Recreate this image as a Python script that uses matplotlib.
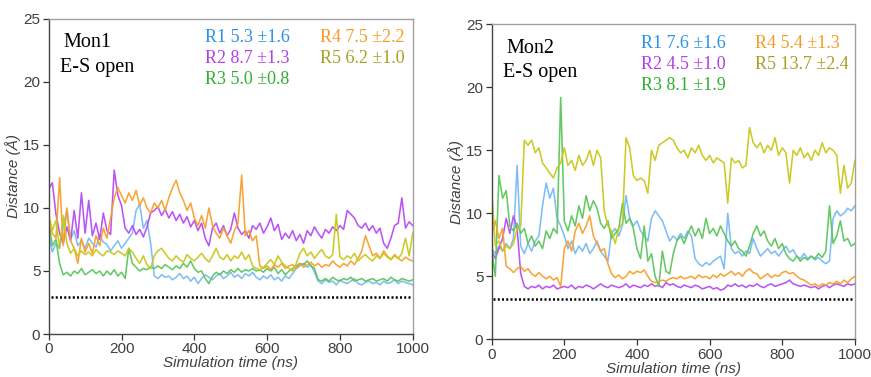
import numpy as np
import matplotlib
matplotlib.use("Agg")
import matplotlib.pyplot as plt

# Simulation time axis (ns), sampled every 10 ns
time_ns = np.arange(0, 1001, 10)

# ---- Mon1 : donor-acceptor distances (Å) ----
mon1_r1 = [8.0, 6.5, 7.2, 6.8, 8.5, 9.8, 7.5, 8.2, 7.0, 7.4, 6.8, 7.6, 7.2, 6.9, 7.8, 7.3, 7.1, 6.6, 7.0, 7.4,
           6.8, 7.2, 7.6, 8.0, 9.8, 10.3, 8.4, 9.0, 7.2, 4.6, 4.4, 4.7, 4.5, 4.6, 4.3, 4.5, 4.8, 4.4, 4.6, 4.2,
           4.5, 4.0, 4.4, 4.7, 4.5, 4.3, 4.6, 4.8, 4.4, 4.6, 4.9, 4.5, 4.7, 4.4, 4.8, 4.6, 4.9, 4.5, 4.3, 4.6,
           4.4, 4.7, 4.3, 4.5, 4.2, 4.6, 4.4, 4.8, 5.2, 5.4, 5.6, 5.3, 5.5, 4.9, 4.2, 4.0, 4.3, 4.1, 4.2, 3.9,
           4.3, 4.1, 4.0, 4.2, 4.4, 4.0, 3.9, 4.1, 4.2, 4.0, 4.1, 3.9, 4.2, 4.0, 4.1, 4.3, 4.0, 4.2, 4.1, 4.0, 3.9]
mon1_r2 = [11.5, 12.0, 9.5, 8.0, 7.2, 8.5, 7.4, 9.8, 7.6, 11.2, 8.0, 10.6, 7.8, 8.8, 7.5, 9.6, 8.2, 7.9, 13.0, 11.0,
           10.2, 8.4, 8.0, 8.6, 7.9, 8.3, 7.7, 8.5, 9.6, 9.8, 10.1, 9.4, 9.9, 9.2, 9.7, 9.0, 9.5, 8.8, 9.3, 8.5,
           9.0, 8.2, 8.8, 7.6, 7.0, 8.4, 8.8, 8.0, 8.6, 7.8, 8.3, 9.6, 8.4, 7.9, 8.2, 7.6, 8.6, 8.3, 8.8, 8.0,
           8.5, 9.2, 8.2, 8.7, 7.5, 8.0, 7.6, 8.2, 7.4, 7.9, 7.2, 8.2, 7.8, 8.5, 8.0, 7.6, 8.3, 8.0, 8.5, 8.2,
           8.6, 8.3, 9.8, 9.5, 9.2, 8.6, 8.4, 8.8, 8.2, 8.6, 8.0, 8.4, 7.2, 6.8, 7.6, 8.6, 8.8, 10.8, 8.4, 8.9, 8.6]
mon1_r3 = [9.0, 7.0, 7.5, 5.6, 4.7, 4.9, 4.6, 5.0, 4.8, 5.2, 4.7, 4.9, 5.1, 4.8, 5.0, 4.6, 5.0, 4.7, 5.1, 4.6,
           4.9, 4.4, 6.8, 5.6, 5.3, 5.0, 5.2, 5.1, 5.3, 5.2, 5.4, 5.2, 5.5, 5.3, 5.1, 5.4, 5.2, 5.6, 5.3, 5.8,
           5.2, 4.9, 5.0, 4.4, 4.0, 4.6, 4.9, 4.7, 5.0, 4.8, 5.1, 4.9, 5.2, 4.9, 5.1, 5.0, 5.2, 5.0, 5.1, 4.9,
           5.2, 5.0, 5.3, 4.8, 5.1, 4.7, 5.0, 5.2, 5.4, 5.6, 5.5, 5.8, 5.4, 5.2, 4.3, 4.2, 4.4, 4.2, 4.5, 4.3,
           4.2, 4.4, 4.3, 4.5, 4.2, 4.3, 4.4, 4.2, 4.3, 4.4, 4.2, 4.3, 4.4, 4.2, 4.5, 4.3, 4.2, 4.4, 4.3, 4.2, 4.3]
mon1_r4 = [9.0, 8.0, 7.6, 12.4, 7.0, 10.0, 7.4, 6.8, 5.6, 7.6, 6.5, 7.2, 6.4, 7.8, 7.0, 8.4, 7.6, 9.2, 10.8, 11.6,
           11.0, 10.4, 11.2, 10.6, 11.4, 10.2, 10.8, 10.0, 9.6, 10.4, 10.0, 10.6, 9.8, 10.8, 11.6, 12.2, 11.2, 10.6, 9.8, 10.4,
           9.2, 8.6, 9.4, 8.4, 10.0, 8.6, 8.0, 7.6, 8.4, 7.8, 7.2, 8.2, 8.8, 12.6, 7.8, 8.2, 7.4, 7.8, 5.4, 5.2,
           5.4, 5.1, 5.5, 5.3, 5.6, 5.2, 5.4, 5.5, 5.2, 5.6, 5.3, 5.5, 5.7, 5.4, 5.6, 5.3, 5.5, 5.4, 5.8, 5.5,
           5.3, 5.6, 5.4, 5.8, 5.5, 6.0, 6.6, 7.8, 7.0, 6.2, 6.4, 6.0, 6.6, 6.2, 5.9, 6.3, 6.0, 5.8, 6.1, 5.9, 5.8]
mon1_r5 = [9.5, 8.2, 9.0, 6.8, 9.4, 7.2, 6.4, 6.8, 6.2, 6.6, 6.3, 6.5, 6.2, 6.7, 6.4, 6.2, 6.6, 6.5, 6.3, 6.6,
           6.4, 6.2, 6.8, 6.5, 6.0, 5.6, 6.2, 5.5, 5.2, 6.2, 6.6, 6.8, 6.4, 6.0, 5.8, 6.2, 5.9, 5.7, 6.3, 6.0,
           5.8, 6.1, 6.4, 6.0, 5.7, 6.2, 6.8, 6.1, 5.9, 6.3, 5.8, 6.2, 6.0, 6.5, 5.9, 6.3, 5.4, 5.2, 5.1, 5.3,
           5.6, 5.9, 5.5, 6.2, 5.7, 5.4, 5.2, 5.0, 5.6, 6.4, 6.8, 6.2, 6.5, 6.0, 6.4, 6.7, 6.2, 6.0, 6.3, 9.5,
           6.1, 5.9, 6.2, 6.0, 6.4, 5.8, 6.1, 6.3, 6.0, 5.8, 6.2, 6.0, 6.4, 6.1, 5.9, 6.2, 6.0, 6.4, 7.6, 6.2, 8.0]

# ---- Mon2 : donor-acceptor distances (Å) ----
mon2_r1 = [7.2, 6.8, 7.4, 7.0, 7.6, 7.2, 8.0, 13.8, 7.4, 6.8, 7.6, 7.0, 7.8, 8.2, 10.6, 12.4, 11.2, 12.0, 9.6, 9.0,
           8.2, 7.2, 7.8, 6.8, 7.4, 7.0, 7.6, 6.8, 7.2, 7.8, 7.0, 6.6, 6.2, 8.4, 8.8, 8.2, 9.0, 11.4, 9.6, 9.0,
           9.4, 8.6, 8.2, 7.8, 9.6, 10.2, 9.8, 9.4, 8.6, 7.8, 8.2, 7.9, 8.4, 8.0, 8.6, 8.2, 6.4, 6.0, 5.8, 6.1,
           5.9, 6.2, 6.4, 6.6, 5.6, 10.0, 7.2, 6.8, 7.0, 6.6, 7.0, 6.8, 8.0, 7.2, 6.6, 6.9, 7.2, 6.8, 7.0, 6.6,
           7.0, 7.4, 6.9, 7.1, 6.6, 6.4, 6.8, 6.4, 6.6, 6.3, 6.5, 6.2, 6.0, 6.2, 9.6, 10.2, 9.8, 10.0, 10.4, 10.2, 10.6]
mon2_r2 = [7.0, 6.4, 7.2, 8.0, 9.6, 8.4, 9.8, 8.8, 5.2, 4.2, 4.0, 4.2, 4.1, 4.3, 4.0, 4.2, 4.1, 4.3, 4.0, 4.1,
           4.2, 4.1, 4.3, 4.0, 4.2, 4.1, 4.3, 4.2, 4.0, 4.2, 4.4, 4.2, 4.1, 4.3, 4.2, 4.1, 4.2, 4.4, 4.1, 4.3,
           4.2, 4.1, 4.3, 4.2, 4.4, 4.2, 4.3, 4.1, 4.5, 4.3, 4.4, 4.2, 4.1, 4.3, 4.2, 4.1, 4.3, 4.2, 4.0, 4.1,
           4.2, 4.0, 4.1, 3.9, 4.0, 4.3, 4.2, 4.4, 4.2, 4.3, 4.1, 4.3, 4.2, 4.4, 4.2, 4.1, 4.3, 4.4, 4.2, 4.3,
           4.4, 4.5, 4.7, 4.4, 4.3, 4.2, 4.3, 4.2, 4.1, 4.2, 4.0, 4.2, 4.3, 4.1, 4.3, 4.4, 4.3, 4.2, 4.4, 4.3, 4.4]
mon2_r3 = [7.0, 5.0, 13.0, 11.2, 11.8, 9.0, 8.6, 9.2, 8.4, 8.8, 7.6, 8.2, 7.4, 7.8, 7.2, 8.6, 8.0, 8.8, 8.4, 19.2,
           9.4, 8.6, 9.8, 9.0, 10.6, 9.6, 11.4, 10.2, 11.0, 10.4, 9.2, 8.8, 9.4, 8.0, 8.4, 8.8, 10.8, 9.2, 9.6, 8.8,
           7.2, 6.4, 9.0, 6.2, 6.8, 5.0, 4.2, 7.0, 5.4, 5.2, 6.8, 7.8, 8.2, 7.6, 8.4, 9.0, 8.2, 8.8, 8.0, 9.6,
           8.4, 8.8, 8.2, 9.0, 8.4, 7.8, 7.4, 7.8, 7.2, 7.0, 6.6, 7.4, 8.4, 9.0, 8.2, 8.6, 7.8, 7.4, 8.0, 7.2,
           7.6, 6.8, 6.4, 6.2, 6.6, 6.2, 6.5, 6.3, 6.6, 6.4, 6.8, 6.5, 7.0, 10.6, 7.6, 8.2, 9.4, 7.8, 8.0, 7.4, 7.6]
mon2_r4 = [8.4, 9.4, 8.0, 8.8, 5.8, 5.6, 5.3, 5.6, 5.8, 5.4, 5.6, 5.2, 5.0, 5.3, 5.0, 4.8, 5.0, 4.7, 4.9, 4.2,
           7.2, 7.8, 7.0, 8.6, 9.2, 8.4, 9.0, 9.8, 8.2, 7.6, 7.0, 7.2, 6.0, 5.2, 4.9, 5.1, 4.8, 5.0, 5.4, 5.2,
           5.4, 5.3, 5.5, 5.0, 4.6, 4.5, 4.6, 4.7, 4.6, 4.8, 4.9, 4.8, 5.0, 4.8, 4.9, 5.0, 4.8, 5.1, 4.9, 5.0,
           4.8, 5.1, 4.9, 5.2, 5.0, 5.2, 5.4, 5.1, 5.3, 5.0, 5.4, 5.6, 5.3, 5.2, 4.8, 5.0, 5.2, 4.9, 5.1, 5.0,
           5.3, 5.4, 5.2, 5.3, 5.0, 4.8, 4.7, 4.5, 4.3, 4.4, 4.2, 4.4, 4.3, 4.5, 4.4, 4.6, 4.4, 4.7, 4.5, 4.8, 5.0]
mon2_r5 = [11.8, 7.4, 7.8, 7.0, 7.4, 7.2, 7.6, 8.8, 9.0, 15.8, 15.4, 15.8, 14.8, 15.2, 14.0, 13.6, 13.2, 12.8, 13.6, 14.0,
           15.2, 13.8, 14.2, 13.4, 14.6, 13.8, 14.2, 15.0, 13.8, 15.0, 14.4, 10.2, 9.0, 8.6, 7.6, 8.8, 9.2, 16.0, 15.2, 13.0,
           12.6, 12.8, 12.6, 11.6, 15.0, 14.2, 15.4, 15.6, 15.8, 16.0, 15.8, 15.2, 14.8, 15.0, 14.4, 15.2, 14.8, 15.4, 14.6, 14.2,
           14.6, 14.0, 14.4, 14.2, 14.0, 10.8, 14.4, 14.0, 14.2, 13.6, 13.8, 16.8, 15.6, 15.2, 15.6, 14.8, 15.4, 15.0, 16.0, 14.6,
           15.2, 14.8, 12.4, 15.0, 14.6, 15.2, 14.4, 14.8, 14.2, 15.0, 14.6, 15.6, 14.8, 15.2, 15.0, 14.6, 11.6, 13.8, 12.0, 12.4, 14.2]

# Cutoff distance shown as a dotted reference line
mon1_cutoff = 2.9
mon2_cutoff = 3.2

series_names = ["R1", "R2", "R3", "R4", "R5"]
mon1_stats = ["5.3 \u00b11.6", "8.7 \u00b11.3", "5.0 \u00b10.8", "7.5 \u00b12.2", "6.2 \u00b11.0"]
mon2_stats = ["7.6 \u00b11.6", "4.5 \u00b11.0", "8.1 \u00b11.9", "5.4 \u00b11.3", "13.7 \u00b12.4"]

line_colors = ["#78bbf5", "#b84cf2", "#5cc65c", "#f9a02a", "#c9c81c"]
text_colors = ["#2a90ee", "#b43ee8", "#30b030", "#f99a22", "#a8a024"]

x_ticks = [0, 200, 400, 600, 800, 1000]
y_ticks = [0, 5, 10, 15, 20, 25]

SERIF = ["Liberation Serif", "DejaVu Serif"]
SANS = ["Liberation Sans", "DejaVu Sans"]

fig = plt.figure(figsize=(8.71, 3.77), dpi=100)
ax1 = fig.add_axes([0.0559, 0.114, 0.418, 0.836])
ax2 = fig.add_axes([0.5645, 0.100, 0.417, 0.8355])


def draw_panel(ax, series, stats, cutoff, title, title_xy, leg_x, leg_y):
    for vals, col in zip(series, line_colors):
        ax.plot(time_ns, vals, color=col, lw=1.15, alpha=0.95)
    ax.plot([5, 995], [cutoff, cutoff], color="black", lw=1.8,
            linestyle=(0, (0.8, 0.9)))
    ax.set_xlim(0, 1000)
    ax.set_ylim(0, 25)
    ax.set_xticks(x_ticks)
    ax.set_yticks(y_ticks)
    ax.tick_params(direction="out", length=4, width=0.9, colors="#333333",
                   labelsize=11, pad=2)
    for lab in ax.get_xticklabels() + ax.get_yticklabels():
        lab.set_family(SANS)
        lab.set_color("#404040")
    for side in ["left", "bottom"]:
        ax.spines[side].set_color("#444444")
        ax.spines[side].set_linewidth(1.0)
    for side in ["top", "right"]:
        ax.spines[side].set_color("#a0a0a0")
        ax.spines[side].set_linewidth(1.0)
    ax.set_xlabel("Simulation time (ns)", family=SANS, style="italic",
                  fontsize=11, color="#404040", labelpad=0)
    ax.set_ylabel("Distance (\u00c5)", family=SANS, style="italic",
                  fontsize=11, color="#404040", labelpad=2)

    tx, ty = title_xy
    ax.text(tx, ty, title, family=SERIF, fontsize=14.5, color="black",
            transform=ax.transAxes, va="baseline")
    ax.text(tx - 0.01, ty - 0.078, "E-S open", family=SERIF, fontsize=14.5,
            color="black", transform=ax.transAxes, va="baseline")

    rows = [(0, leg_x[0], 0), (1, leg_x[0], 1), (2, leg_x[0], 2),
            (3, leg_x[1], 0), (4, leg_x[1], 1)]
    for idx, lx, row in rows:
        ax.text(lx, leg_y - row * 0.066, f"{series_names[idx]} {stats[idx]}",
                family=SERIF, fontsize=13, color=text_colors[idx],
                transform=ax.transAxes, va="baseline")


draw_panel(ax1, [mon1_r1, mon1_r2, mon1_r3, mon1_r4, mon1_r5], mon1_stats,
           mon1_cutoff, "Mon1", (0.04, 0.91), (0.43, 0.745), 0.925)
draw_panel(ax2, [mon2_r1, mon2_r2, mon2_r3, mon2_r4, mon2_r5], mon2_stats,
           mon2_cutoff, "Mon2", (0.04, 0.91), (0.41, 0.725), 0.925)

fig.savefig("out.png", dpi=100)
